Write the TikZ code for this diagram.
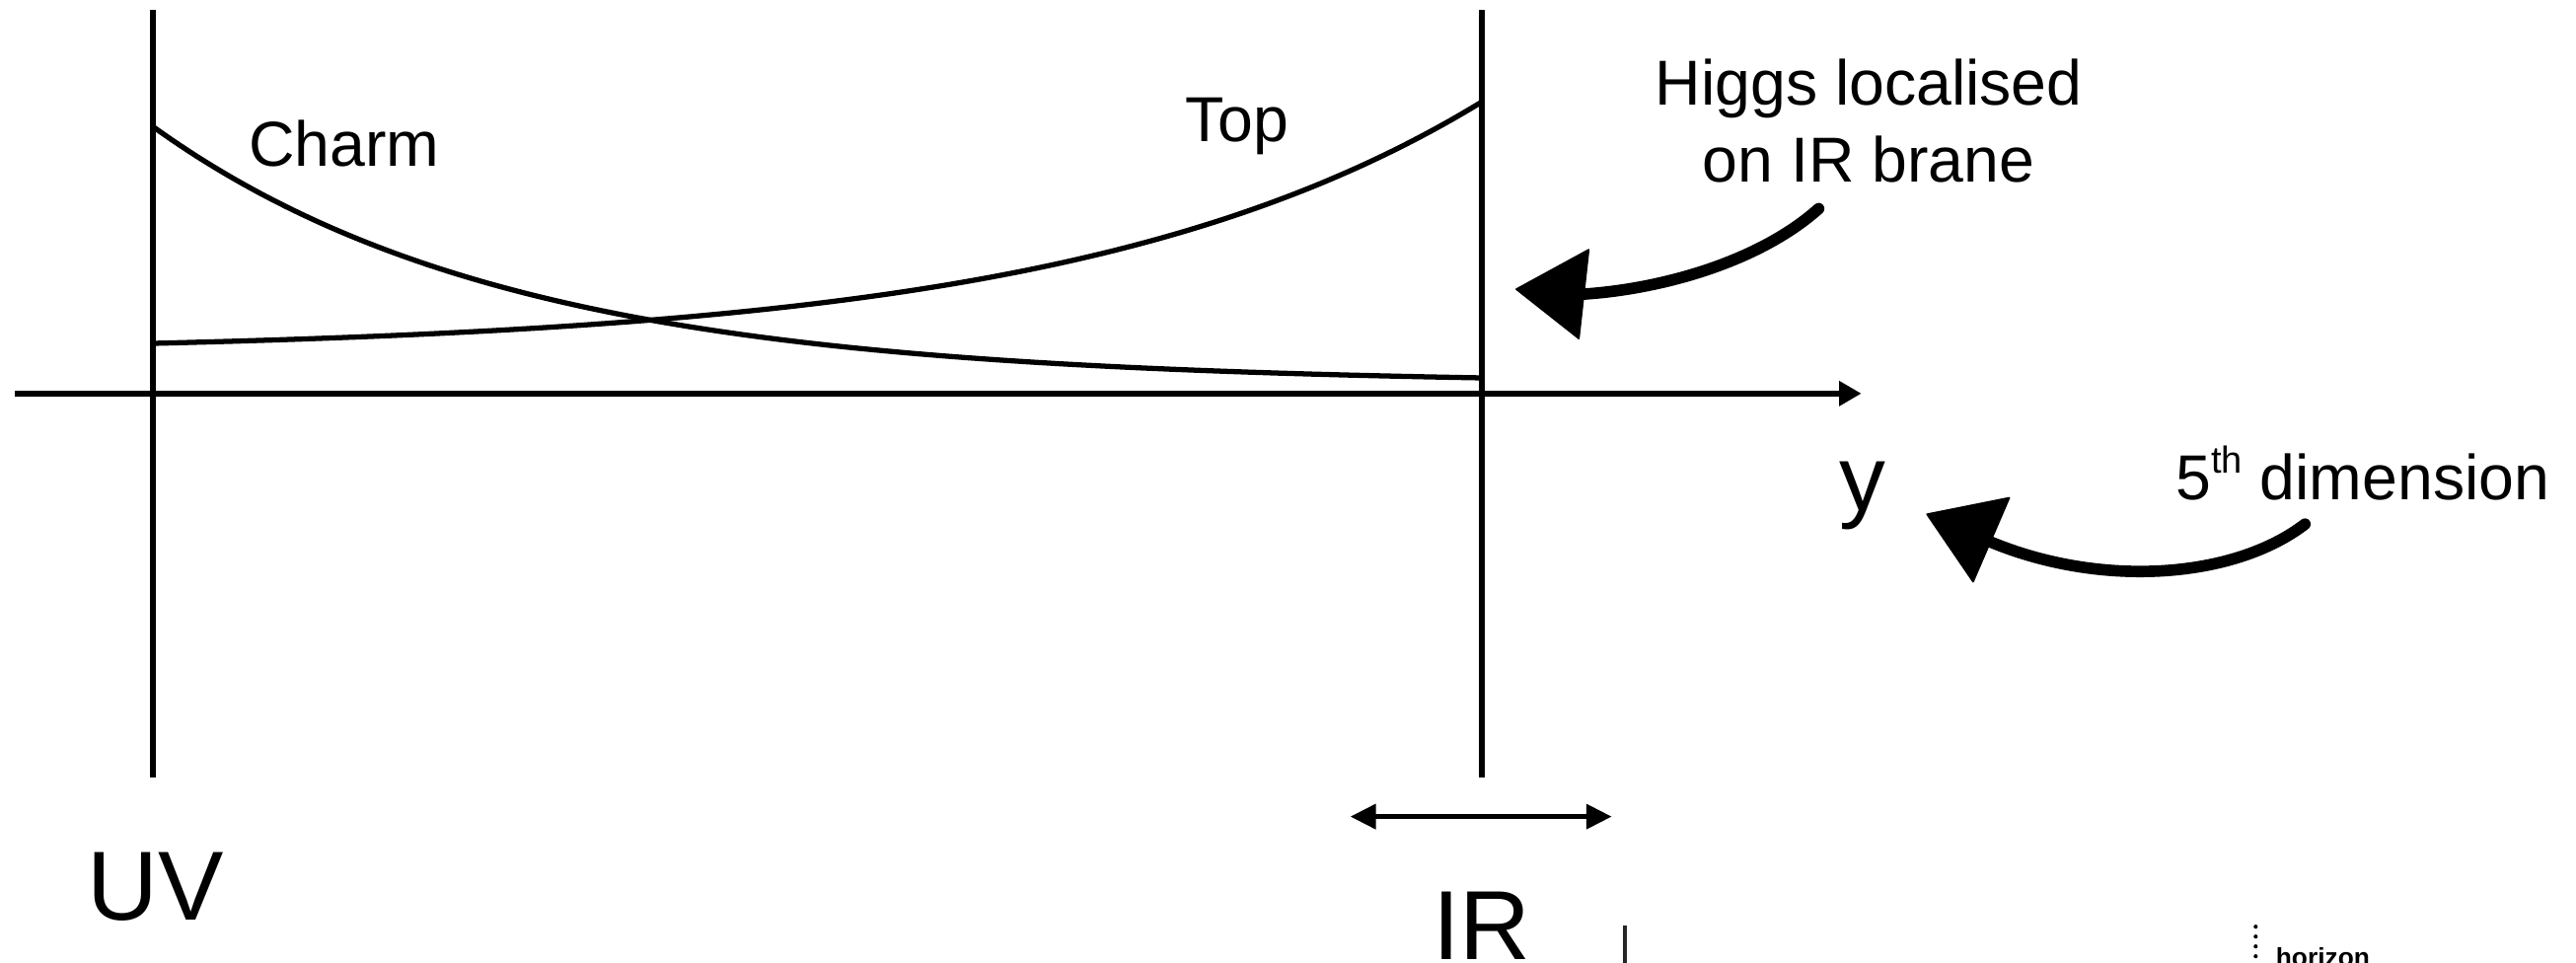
\documentclass[tikz,border=0pt]{standalone}
\usepackage{fontspec}
\setmainfont{Liberation Sans}
\usetikzlibrary{arrows.meta}
\tikzset{
  axtip/.tip={Triangle[length=2.7mm,width=2.9mm]},
  dbltip/.tip={Triangle[length=3.1mm,width=3mm]},
}
\begin{document}
\begin{tikzpicture}[x=0.2mm,y=-0.2mm,
  lbl/.style={font=\fontsize{22}{26.5}\selectfont, inner sep=0pt},
  big/.style={font=\fontsize{34}{40}\selectfont, inner sep=0pt},
  brane/.style={line width=1.9pt},
  wave/.style={line width=1.8pt},
  chalk/.style={line width=1.4mm, line cap=round},
  chalkhead/.style={fill=black, draw=black, line width=0.6pt, line join=round},
]
\useasboundingbox (0,0) rectangle (1568,586);
\clip (0,0) rectangle (1568,586);
% coordinates
\coordinate (uvtop) at (93,6);
\coordinate (uvbot) at (93,473);
\coordinate (irtop) at (902,6);
\coordinate (irbot) at (902,473);
\coordinate (axl) at (9,239.5);
\coordinate (axr) at (1133,239.5);
\coordinate (dl) at (822,497);
\coordinate (dr) at (981,497);
% branes and axis
\draw[brane] (uvtop) -- (uvbot);
\draw[brane] (irtop) -- (irbot);
\draw[brane, -{axtip}] (axl) -- (axr);
% profiles
\draw[wave] plot[domain=93:902, samples=150] (\x,{77+153*(1-exp(-0.0046*(\x-93)))/(1-exp(-0.0046*809))});
\draw[wave] plot[domain=93:902, samples=150] (\x,{215-153*exp(0.004*(\x-902))});
% labels
\node[lbl, anchor=base west] (charm) at (151,101) {Charm};
\node[lbl, anchor=base] (top) at (753,86) {Top};
\node[lbl, anchor=base] (higgs1) at (1137.5,63.7) {Higgs localised};
\node[lbl, anchor=base] (higgs2) at (1137.5,110.5) {on IR brane};
\node[font=\fontsize{32}{38}\selectfont, inner sep=0pt, anchor=base] (ylab) at (1134,311) {y};
\node[lbl, anchor=base west] (fifth) at (1324,304) {5\raisebox{0.42em}{\fontsize{13}{13}\selectfont th} dimension};
\node[big, anchor=base west] (uv) at (53,560) {UV};
\node[big, anchor=base] (ir) at (902,584) {IR};
% IR width arrow
\draw[line width=1.5pt, {dbltip}-{dbltip}] (dl) -- (dr);
% chalk arrow: Higgs
\coordinate (htail) at (1107,127);
\coordinate (hbase) at (964,179);
\coordinate (htip) at (923,176);
\coordinate (hc1) at (967,152);
\coordinate (hc2) at (961,206);
\draw[chalk] (htail) .. controls (1070,160) and (1010,176) .. (hbase);
\filldraw[chalkhead] (htip) -- (hc1) -- (hc2) -- cycle;
% chalk arrow: 5th dimension
\coordinate (ftail) at (1403,319);
\coordinate (fbase) at (1212,330);
\coordinate (ftip) at (1173,313);
\coordinate (fc1) at (1223,303);
\coordinate (fc2) at (1201,354);
\draw[chalk] (ftail) .. controls (1360,352) and (1280,358) .. (fbase);
\filldraw[chalkhead] (ftip) -- (fc1) -- (fc2) -- cycle;
% cropped fragments at the bottom
\coordinate (fragtop) at (989,563);
\coordinate (fragbot) at (989,600);
\draw[line width=0.4mm, black!85] (fragtop) -- (fragbot);
\coordinate (hortop) at (1373,564);
\coordinate (horbot) at (1373,600);
\draw[line width=0.5mm, line cap=round, dash pattern=on 0pt off 1.2mm] (hortop) -- (horbot);
\node[font=\fontsize{9}{10}\selectfont\bfseries, inner sep=0pt, anchor=base west] (horizon) at (1385,588) {horizon};
\end{tikzpicture}
\end{document}
